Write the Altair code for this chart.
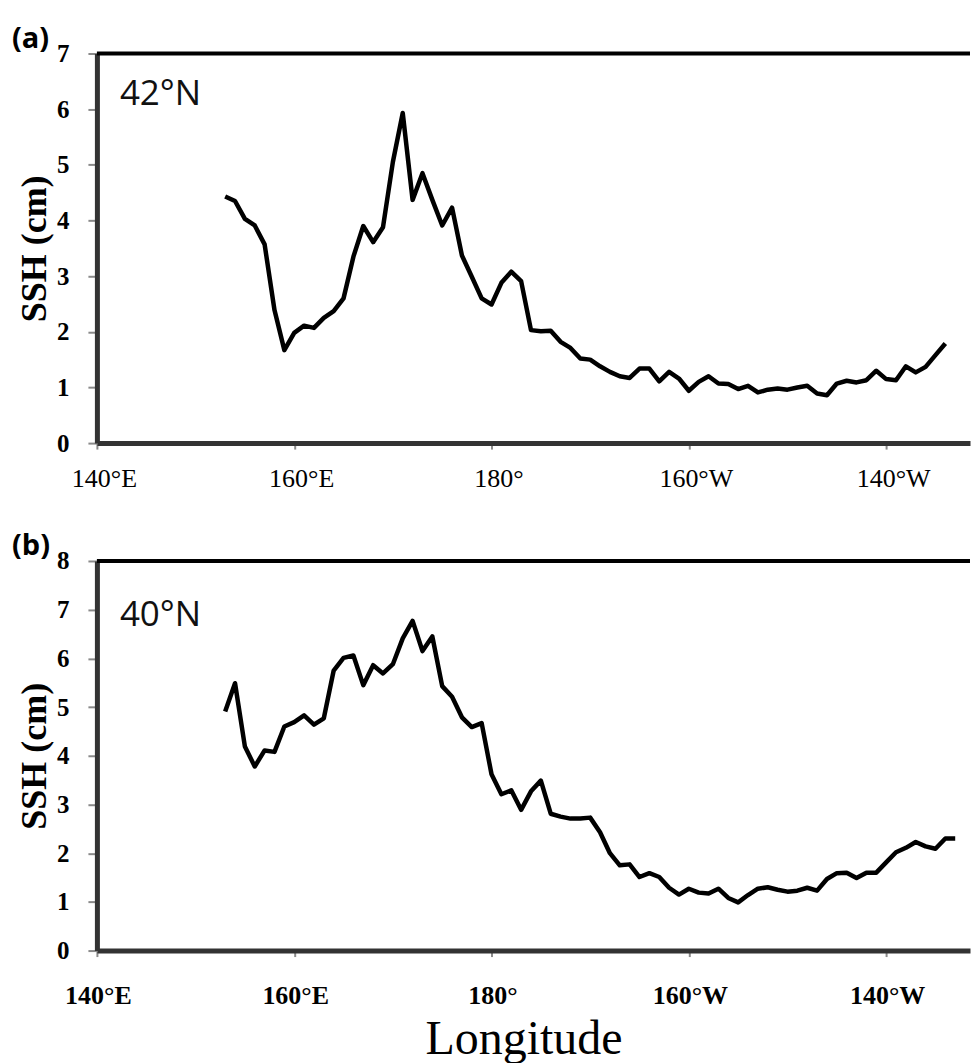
import altair as alt
import pandas as pd

# ---- data ----
LON_START_A = 153
SSH_A = [4.43, 4.35, 4.03, 3.91, 3.57, 2.39, 1.67, 1.98, 2.11, 2.07,
         2.25, 2.37, 2.60, 3.35, 3.90, 3.61, 3.88, 5.05, 5.93, 4.37,
         4.85, 4.37, 3.91, 4.23, 3.37, 2.99, 2.60, 2.49, 2.88, 3.08,
         2.91, 2.03, 2.01, 2.02, 1.82, 1.71, 1.52, 1.50, 1.38, 1.28,
         1.20, 1.17, 1.34, 1.34, 1.11, 1.28, 1.16, 0.94, 1.10, 1.20,
         1.07, 1.06, 0.97, 1.03, 0.91, 0.96, 0.98, 0.96, 1.00, 1.03,
         0.89, 0.86, 1.07, 1.12, 1.09, 1.13, 1.30, 1.15, 1.13, 1.38,
         1.27, 1.37, 1.58, 1.79]

LON_START_B = 153
SSH_B = [4.91, 5.49, 4.19, 3.78, 4.11, 4.08, 4.60, 4.69, 4.83, 4.64,
         4.77, 5.75, 6.01, 6.06, 5.45, 5.86, 5.69, 5.88, 6.41, 6.77,
         6.15, 6.45, 5.43, 5.21, 4.79, 4.59, 4.67, 3.62, 3.21, 3.29,
         2.89, 3.27, 3.49, 2.81, 2.75, 2.71, 2.71, 2.73, 2.43, 2.00,
         1.75, 1.77, 1.51, 1.59, 1.51, 1.29, 1.15, 1.27, 1.19, 1.17,
         1.27, 1.08, 0.99, 1.14, 1.27, 1.30, 1.25, 1.21, 1.23, 1.29,
         1.23, 1.47, 1.59, 1.60, 1.49, 1.60, 1.60, 1.81, 2.02, 2.11,
         2.23, 2.14, 2.09, 2.30, 2.30]

TICK_VALUES = [140, 160, 180, 200, 220]
TICK_LABELS = ["140°E", "160°E", "180°", "160°W", "140°W"]
PANEL_LETTERS = ["(a)", "(b)"]
LAT_LABELS = ["42°N", "40°N"]
Y_MAX = [7, 8]
Y_TITLE = "SSH (cm)"
X_TITLE = "Longitude"

X_DOMAIN = [140, 228.5]
W = 874
H = 390

SERIF = "Liberation Serif"
SANS = "Open Sans"


def label_expr():
    expr = "''"
    for v, lab in reversed(list(zip(TICK_VALUES, TICK_LABELS))):
        expr = f"datum.value == {v} ? '{lab}' : ({expr})"
    return expr


def panel(lon_start, vals, ymax, letter, lat, lat_y, x_bold, x_pad, x_off, x_title):
    df = pd.DataFrame({"lon": [lon_start + i for i in range(len(vals))], "ssh": vals})

    xaxis = dict(values=TICK_VALUES, labelExpr=label_expr(), labelFont=SERIF,
                 labelFontSize=26, labelFontWeight="bold" if x_bold else "normal",
                 labelPadding=x_pad, labelOffset=x_off, labelColor="black",
                 labelBaseline="top", labelAlign="center",
                 labelFlush=False, labelOverlap=False,
                 tickSize=6, tickColor="#8a8a8a", tickWidth=2,
                 domainColor="#333333", domainWidth=5, grid=False)
    if x_title:
        xaxis.update(title=x_title, titleFont=SERIF, titleFontSize=48,
                     titleFontWeight="normal", titleColor="black", titlePadding=7,
                     titleX=427, titleAlign="center")
    else:
        xaxis["title"] = None

    yaxis = alt.Axis(values=list(range(0, ymax + 1)), title=Y_TITLE, titleFont=SERIF,
                     titleFontSize=36, titleFontWeight="bold", titleColor="black",
                     titlePadding=3, labelFont=SERIF, labelFontSize=25,
                     labelFontWeight="bold", labelColor="black", labelPadding=19,
                     labelOverlap=False, tickSize=9, tickColor="#8a8a8a", tickWidth=2,
                     domainColor="#333333", domainWidth=5, grid=False)

    line = alt.Chart(df).mark_line(color="black", strokeWidth=4.5, strokeJoin="round").encode(
        x=alt.X("lon:Q", scale=alt.Scale(domain=X_DOMAIN, nice=False, zero=False),
                axis=alt.Axis(**xaxis)),
        y=alt.Y("ssh:Q", scale=alt.Scale(domain=[0, ymax], nice=False), axis=yaxis),
    )

    top = alt.Chart(pd.DataFrame({"k": [0]})).mark_rule(color="black", strokeWidth=4).encode(
        x=alt.value(0), x2=alt.value(W), y=alt.value(0)
    )

    lat_txt = alt.Chart(pd.DataFrame({"t": [lat]})).mark_text(
        align="left", baseline="alphabetic", font=SANS, fontSize=35, color="#111111"
    ).encode(x=alt.value(23), y=alt.value(lat_y), text="t:N")

    letter_txt = alt.Chart(pd.DataFrame({"t": [letter]})).mark_text(
        align="left", baseline="alphabetic", font=SANS, fontSize=29,
        fontWeight="bold", color="black"
    ).encode(x=alt.value(-85), y=alt.value(-6), text="t:N")

    return alt.layer(line, top, lat_txt, letter_txt).properties(width=W, height=H)


pa = panel(LON_START_A, SSH_A, Y_MAX[0], PANEL_LETTERS[0], LAT_LABELS[0], 52,
           False, 16, 7, None)
pb = panel(LON_START_B, SSH_B, Y_MAX[1], PANEL_LETTERS[1], LAT_LABELS[1], 65,
           True, 26, 1, X_TITLE)

chart = alt.vconcat(pa, pb, spacing=118, bounds="flush").properties(
    padding={"left": 4, "top": 16, "right": 0, "bottom": 0}
).configure_view(stroke=None)

chart.save("out.html", embed_options={"renderer": "svg", "actions": False})
